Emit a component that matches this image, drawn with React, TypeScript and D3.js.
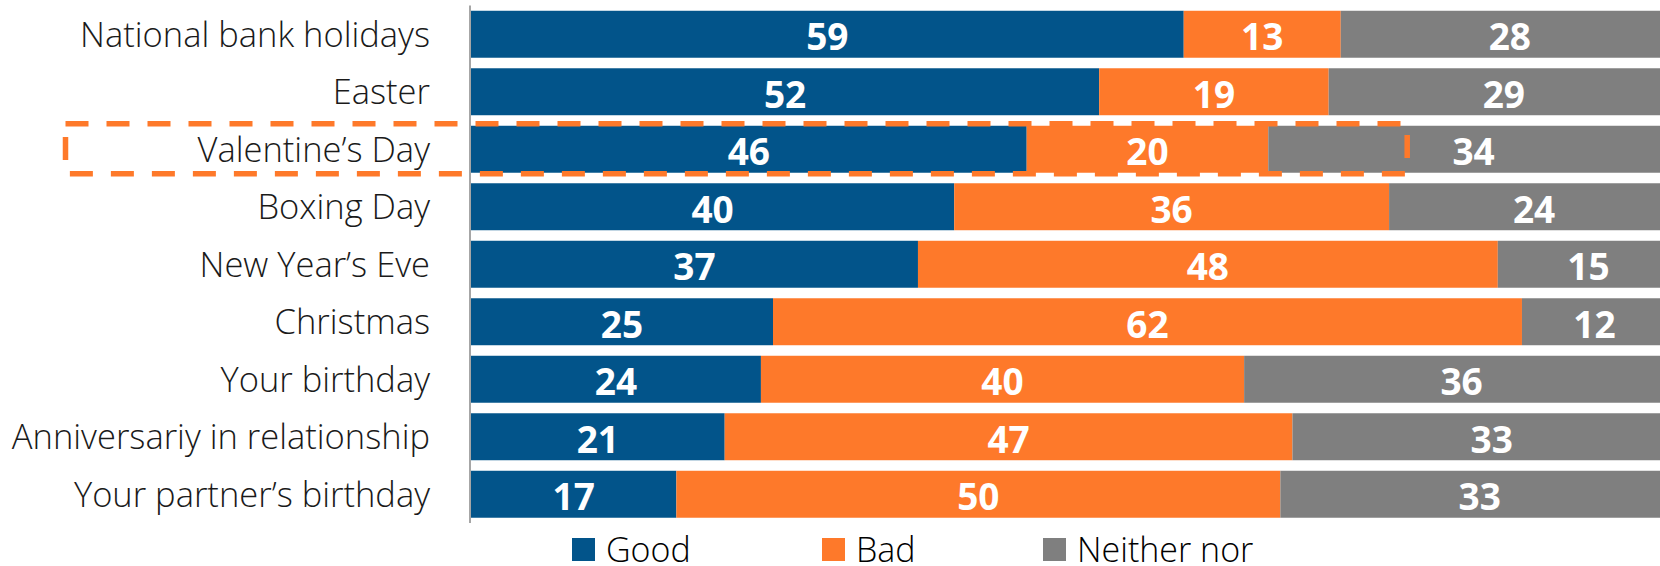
import * as d3 from 'd3';
import React from 'react';

const categories = [
  "National bank holidays",
  "Easter",
  "Valentine’s Day",
  "Boxing Day",
  "New Year’s Eve",
  "Christmas",
  "Your birthday",
  "Anniversariy in relationship",
  "Your partner’s birthday",
];

const goodValues = [59, 52, 46, 40, 37, 25, 24, 21, 17];
const badValues = [13, 19, 20, 36, 48, 62, 40, 47, 50];
const neitherValues = [28, 29, 34, 24, 15, 12, 36, 33, 33];

const seriesNames = ["Good", "Bad", "Neither nor"];
const seriesColors = ["#02548a", "#fe792a", "#7f7f7f"];

const highlighted = "Valentine’s Day";

const WIDTH = 1660;
const HEIGHT = 566;
const FONT = "'Open Sans', 'Segoe UI', sans-serif";

const App: React.FC = () => {
  // the 100% end of the axis lies past the right edge of the picture
  const xScale = d3.scaleLinear().domain([0, 100]).range([471, 1679]);
  const yScale = d3.scaleBand<string>()
    .domain(categories)
    .range([5.5, 523])
    .paddingInner(0.183)
    .paddingOuter(0.0915);

  const rows = categories.map((cat, i) => {
    const vals = [goodValues[i], badValues[i], neitherValues[i]];
    let acc = 0;
    const segs = vals.map((v, k) => {
      const s = { key: k, x0: acc, x1: acc + v, value: v };
      acc += v;
      return s;
    });
    return { cat, segs };
  });

  const bw = yScale.bandwidth();
  const hlY = yScale(highlighted)!;

  // legend layout
  const legendX = [572, 822, 1043];

  return (
    <svg width={WIDTH} height={HEIGHT} style={{ position: "absolute", left: 0, top: 0 }}>
      <rect width={WIDTH} height={HEIGHT} fill="#fff" />

      {rows.map(row => (
        <g key={row.cat}>
          {row.segs.map(s => (
            <rect
              key={s.key}
              x={xScale(s.x0)}
              y={yScale(row.cat)!}
              width={xScale(s.x1) - xScale(s.x0)}
              height={bw}
              fill={seriesColors[s.key]}
            />
          ))}
          {row.segs.map(s => (
            <text
              key={"t" + s.key}
              x={(xScale(s.x0) + xScale(s.x1)) / 2}
              y={yScale(row.cat)! + bw / 2 + 16}
              textAnchor="middle"
              fill="#fff"
              fontFamily={FONT}
              fontWeight={700}
              fontSize={37}
            >
              {s.value}
            </text>
          ))}
          <text
            x={430}
            y={yScale(row.cat)! + bw / 2 + 12.5}
            textAnchor="end"
            fill="#1a1a1a"
            fontFamily={FONT}
            fontWeight={300}
            fontSize={34.5}
          >
            {row.cat}
          </text>
        </g>
      ))}

      {/* vertical axis line */}
      <line x1={470} x2={470} y1={5.5} y2={523} stroke="#a6a6a6" strokeWidth={2} />

      {/* highlight annotation */}
      <rect
        x={65.5}
        y={hlY - 2}
        width={xScale(77.5) - 65.5}
        height={bw + 3}
        fill="none"
        stroke="#fe792a"
        strokeWidth={5.5}
        strokeDasharray="23,18"
      />

      {/* legend */}
      {seriesNames.map((name, k) => (
        <g key={name} transform={`translate(${legendX[k]},538)`}>
          <rect width={23} height={23} fill={seriesColors[k]} />
          <text
            x={34}
            y={23.5}
            fill="#000"
            fontFamily={FONT}
            fontWeight={300}
            fontSize={34}
          >
            {name}
          </text>
        </g>
      ))}
    </svg>
  );
};

export default App;
